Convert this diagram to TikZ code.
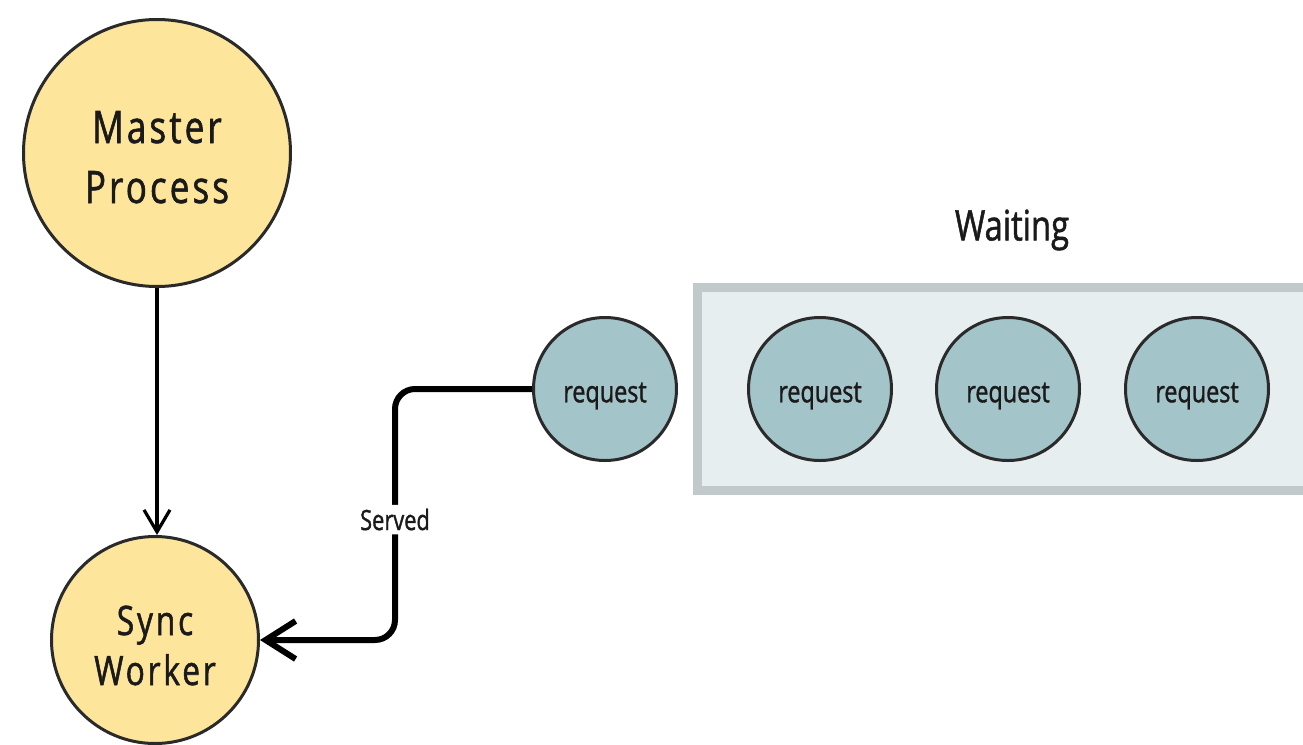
\documentclass[tikz,border=0pt]{standalone}
\usepackage{fontspec}
\setmainfont{Open Sans}[FakeStretch=0.78, FakeBold=1.2]
\newfontfamily\widefont{Open Sans}[FakeStretch=0.78, FakeBold=1.3, LetterSpace=7]
\usetikzlibrary{arrows.meta,positioning}
\definecolor{yel}{HTML}{FDE59B}
\definecolor{req}{HTML}{A3C4C9}
\definecolor{boxfill}{HTML}{E6EEF0}
\definecolor{boxline}{HTML}{C2C9CB}
\definecolor{ink}{HTML}{2A2A2A}
\definecolor{txt}{HTML}{1A1A1A}
\newcommand{\twolines}[3]{\raisebox{#1}[\height][\depth]{\begin{tabular}{@{}c@{}}#2\\#3\end{tabular}}}
\newcommand{\lowered}[2]{\raisebox{#1}[\height][\depth]{#2}}
\tikzset{
  proc/.style={circle, draw=ink, line width=1.5pt, fill=yel, inner sep=0pt, text=txt},
  reqnode/.style={circle, draw=ink, line width=1.5pt, fill=req, inner sep=0pt, minimum size=71.5pt, text=txt, font=\fontsize{15pt}{16pt}\selectfont},
  conn/.style={draw=black, line width=1.6pt, -{Straight Barb[length=11pt,width=13pt,line width=1.6pt]}},
  served/.style={draw=black, line width=3pt, rounded corners=10pt, -{Straight Barb[length=15pt,width=19pt,line width=3pt]}},
  lbl/.style={fill=white, inner sep=2pt, text=txt, font=\fontsize{14pt}{16pt}\selectfont}
}
\begin{document}
\begin{tikzpicture}[x=0.5pt,y=-0.5pt]
\useasboundingbox (0,0) rectangle (1303,745);
\clip (0,0) rectangle (1303,745);
\fill[white] (0,0) rectangle (1303,745);
% waiting box
\draw[boxline, fill=boxfill, line width=4.5pt] (697.5,287.5) rectangle (1330,490.5);
\node[text=txt, font=\fontsize{21pt}{24pt}\selectfont] (wait) at (1012,230) {Waiting};
% processes
\node[proc, minimum size=133.5pt, font=\widefont\fontsize{22.4pt}{30pt}\selectfont] (mp) at (157,153) {\twolines{-4pt}{Master}{Process}};
\node[proc, minimum size=103.5pt, font=\widefont\fontsize{20.3pt}{25pt}\selectfont] (sw) at (155,640) {\twolines{-5pt}{Sync}{Worker}};
% requests
\node[reqnode] (r0) at (605,389) {\lowered{-3.5pt}{request}};
\node[reqnode] (r1) at (820,389) {\lowered{-3.5pt}{request}};
\node[reqnode] (r2) at (1008,389) {\lowered{-3.5pt}{request}};
\node[reqnode] (r3) at (1197,389) {\lowered{-3.5pt}{request}};
% connectors
\draw[conn] (mp.south) -- (mp.south |- sw.north);
\coordinate (ca) at (395,389);
\coordinate (cb) at (395,640);
\draw[served] (r0.west) -- (ca) -- node[lbl, pos=0.52] (srv) {Served} (cb) -- (sw.east);
\end{tikzpicture}
\end{document}
